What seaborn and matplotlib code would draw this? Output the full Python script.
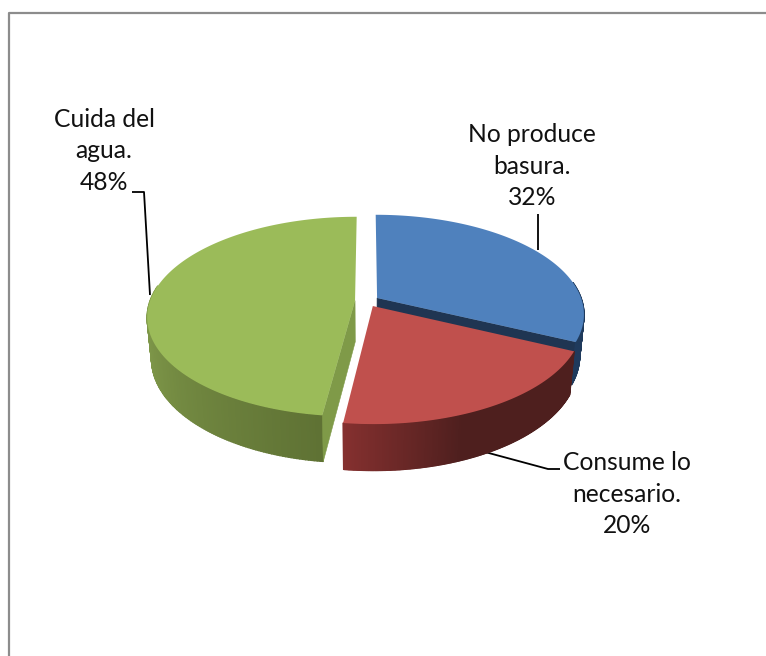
import numpy as np
import matplotlib
matplotlib.use("Agg")
import matplotlib.pyplot as plt
from matplotlib.patches import Polygon
from matplotlib.path import Path
from matplotlib.transforms import Transform
from matplotlib.colors import to_rgb
import seaborn as sns

categories = ["No produce\nbasura.", "Consume lo\nnecesario.", "Cuida del\nagua."]
values = [32, 20, 48]
top_colors = ["#4f81bd", "#c0504d", "#9bbb59"]
wall_start = ["#1f3a5c", "#85302f", "#8aa551"]
wall_end = ["#1f3a5c", "#4e1f1e", "#5f7234"]
cut_colors = ["#1f3552", "#4e1f1e", "#7f9a48"]
label_xy = [(532, 166), (627, 494), (104, 151)]
leaders = [[(538, 214), (538, 250)],
           [(485, 452), (548, 469), (560, 469)],
           [(132, 192), (144, 192), (150, 295)]]

CX, Y0, A, B, K, M, D = 367, 301, 205, 97.4, 0.16, 0.02, 42
EXPL = 0.0585


def project(x, y, z=0.0):
    x = np.asarray(x, float)
    y = np.asarray(y, float)
    s = 1.0 / (1.0 + K * y + M * z)
    return CX + A * x * s, Y0 + (-B * y + D * z) * s


class TiltTransform(Transform):
    input_dims = output_dims = 2
    is_affine = False

    def transform_non_affine(self, values):
        px, py = project(values[:, 0], values[:, 1])
        return np.column_stack([px, py])

    def transform_path_non_affine(self, path):
        # flatten the arc at a large scale so that the curve stays smooth
        big = Path(path.vertices * 2000.0, path.codes)
        poly = big.to_polygons(closed_only=False)[0] / 2000.0
        return Path(self.transform_non_affine(poly))


sns.set_theme(style="white")
plt.rcParams["font.family"] = ["Lato", "DejaVu Sans"]

fig = plt.figure(figsize=(7.66, 6.56), dpi=100, facecolor="white")
ax = fig.add_axes([0, 0, 1, 1])
wedges, _ = ax.pie(values, colors=top_colors, startangle=90, counterclock=False,
                   explode=[EXPL] * len(values), frame=False)
ax.set_aspect("auto")
ax.set_xlim(0, 766)
ax.set_ylim(656, 0)
ax.axis("off")

tilt = TiltTransform()
for i, w in enumerate(wedges):
    z = 2 + 2 * i
    w.set_transform(tilt + ax.transData)
    w.set_zorder(z + 1)
    w.set_linewidth(0)
    cx, cy = w.center
    th = np.radians(np.linspace(w.theta1, w.theta2, 240))
    ox, oy = cx + w.r * np.cos(th), cy + w.r * np.sin(th)
    # outer wall, front-facing part only, shaded along the arc
    c0, c1 = np.array(to_rgb(wall_start[i])), np.array(to_rgb(wall_end[i]))
    visible = [j for j in range(len(th) - 1) if np.sin(th[j]) <= 0.16]
    for n, j in enumerate(visible):
        xt, yt = project(ox[j:j + 2], oy[j:j + 2], 0)
        xb, yb = project(ox[j:j + 2], oy[j:j + 2], 1)
        frac = n / max(len(visible) - 1, 1)
        if i == 1:   # red reaches its darkest shade early
            frac = min(frac / 0.4, 1.0)
        col = c0 + (c1 - c0) * frac
        ax.add_patch(Polygon([(xt[0], yt[0]), (xt[1], yt[1]), (xb[1], yb[1]), (xb[0], yb[0])],
                             closed=True, fc=col, ec=col, lw=1.0, zorder=z))
    # cut face that looks towards the viewer
    if i in (0, 2):
        edge = 0 if i == 0 else len(th) - 1
        ex, ey = ox[edge], oy[edge]
        xt, yt = project([cx, ex], [cy, ey], 0)
        xb, yb = project([cx, ex], [cy, ey], 1)
        ax.add_patch(Polygon([(xt[0], yt[0]), (xt[1], yt[1]), (xb[1], yb[1]), (xb[0], yb[0])],
                             closed=True, fc=cut_colors[i], ec=cut_colors[i], lw=0.4,
                             zorder=z - 0.5 if i == 0 else z + 0.5))

# labels and leader lines
for cat, val, (lx, ly), pts in zip(categories, values, label_xy, leaders):
    ax.text(lx, ly, f"{cat}\n{val}%", ha="center", va="center", fontsize=17.7,
            color="#111111", linespacing=1.47, zorder=20)
    xs, ys = zip(*pts)
    ax.plot(xs, ys, color="black", lw=1.3, zorder=1, solid_capstyle="butt")

# chart frame
ax.plot([9, 9, 766], [656, 13, 13], color="#8c8c8c", lw=1.6, zorder=0, clip_on=False)

fig.savefig("out.png", dpi=100, facecolor="white")
